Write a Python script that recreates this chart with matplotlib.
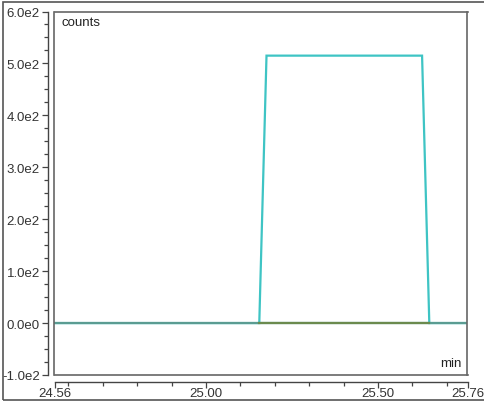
import matplotlib
matplotlib.use("Agg")
import matplotlib.pyplot as plt
from matplotlib.ticker import FixedLocator, MultipleLocator
from matplotlib.patches import Rectangle

# データ
signal_time = [24.56, 25.155, 25.176, 25.628, 25.649, 25.76]
signal_counts = [0, 0, 515, 515, 0, 0]
baseline_time = [25.155, 25.649]
baseline_counts = [0, 0]
x_ticks = [24.56, 25.00, 25.50, 25.76]
x_labels = ["24.56", "25.00", "25.50", "25.76"]
y_ticks = [-100, 0, 100, 200, 300, 400, 500, 600]
y_labels = ["-1.0e2", "0.0e0", "1.0e2", "2.0e2", "3.0e2", "4.0e2", "5.0e2", "6.0e2"]

W, H = 485, 406
plt.rcParams["font.family"] = ["Liberation Sans", "DejaVu Sans"]
fig = plt.figure(figsize=(W / 100, H / 100), dpi=100)


def px_rect(left, top, right, bottom):
    return [left / W, 1 - bottom / H, (right - left) / W, (bottom - top) / H]


pos = px_rect(54.5, 12.5, 467.5, 376)
FS = 9.5

# 外枠
fig.add_artist(Rectangle((3 / W, 1 - 400.5 / H), 600 / W, 397.5 / H,
                         transform=fig.transFigure, fill=False,
                         edgecolor="#555555", linewidth=1.2))

# 軸（目盛り用）
axs = fig.add_axes(pos)
axs.set_xlim(24.56, 25.76)
axs.set_ylim(-100, 600)
axs.patch.set_alpha(0)
for s in ["top", "right"]:
    axs.spines[s].set_visible(False)
axs.spines["left"].set_position(("outward", 5))
axs.spines["bottom"].set_position(("outward", 5))
for s in ["left", "bottom"]:
    axs.spines[s].set_color("#444444")
    axs.spines[s].set_linewidth(1.0)
axs.xaxis.set_major_locator(FixedLocator(x_ticks))
axs.set_xticklabels(x_labels)
axs.xaxis.set_minor_locator(FixedLocator([24.6 + 0.1 * i for i in range(12)]))
axs.yaxis.set_major_locator(FixedLocator(y_ticks))
axs.set_yticklabels(y_labels)
axs.yaxis.set_minor_locator(MultipleLocator(25))
axs.tick_params(which="major", length=4, width=0.9, color="#444444",
                labelsize=FS, labelcolor="#333333")
axs.tick_params(axis="x", which="major", pad=0)
axs.tick_params(axis="y", which="major", pad=1.5)
axs.tick_params(which="minor", length=3, width=0.9, color="#444444")

# プロット領域
ax = fig.add_axes(pos)
ax.set_xlim(24.56, 25.76)
ax.set_ylim(-100, 600)
ax.patch.set_alpha(0)
ax.set_xticks([])
ax.set_yticks([])
for s in ax.spines.values():
    s.set_color("#666666")
    s.set_linewidth(1.2)

ax.plot(signal_time, signal_counts, color="#3ec4c4", linewidth=1.6,
        solid_joinstyle="miter")
ax.axhline(0, color="#5a9c92", linewidth=1.6)
ax.plot(baseline_time, baseline_counts, color="#6b8a4e", linewidth=1.6)

ax.text(62, H - 23, "counts", transform=None, fontsize=FS, color="#222222",
        va="center", ha="left")
ax.text(462, H - 364, "min", transform=None, fontsize=FS,
        color="#222222", va="center", ha="right")

fig.savefig("out.png", dpi=100)
